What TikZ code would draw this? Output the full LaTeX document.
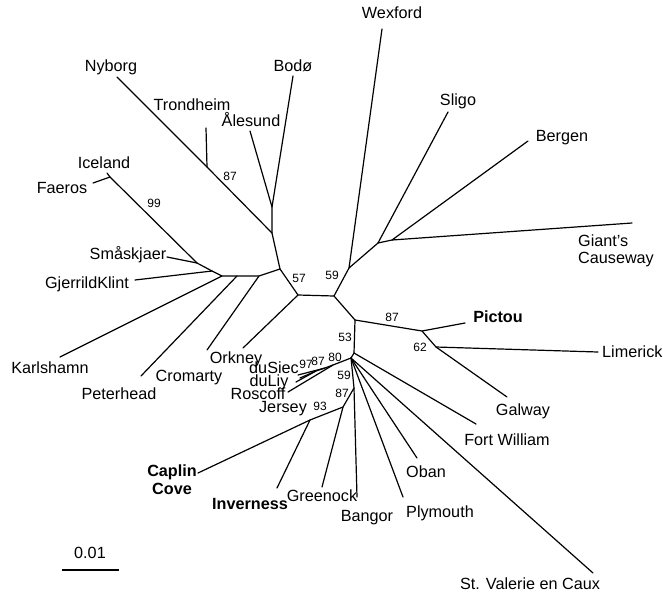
\documentclass[tikz,border=0pt]{standalone}
\usepackage{fontspec}
\setmainfont{Liberation Sans}
\begin{document}
\begin{tikzpicture}[x=1pt,y=-1pt,
  br/.style={draw=black,line width=1.2pt,line cap=round,line join=round},
  lbl/.style={inner sep=0pt,anchor=base,font=\fontsize{16.2}{18}\selectfont},
  blbl/.style={inner sep=0pt,anchor=base,font=\fontsize{16.2}{18}\selectfont\bfseries},
  bs/.style={inner sep=0pt,anchor=base,font=\fontsize{12}{13}\selectfont}]
\path[use as bounding box] (0,0) rectangle (663,592);
% coordinates
\coordinate (A) at (272,233);
\coordinate (AB) at (272,207);
\coordinate (Ales) at (250,131);
\coordinate (Bodo) at (293,76);
\coordinate (T) at (207,167);
\coordinate (Tron) at (206,128);
\coordinate (Nyb) at (117,77);
\coordinate (B) at (280,269);
\coordinate (Q5) at (259,276);
\coordinate (Q4) at (237,276);
\coordinate (Q3) at (222,276);
\coordinate (Q2) at (212,271);
\coordinate (Q1) at (197,263);
\coordinate (IF) at (110,177);
\coordinate (Ice) at (107,173);
\coordinate (Fae) at (93,183);
\coordinate (Sma) at (167,257);
\coordinate (Gje) at (135,280);
\coordinate (Karl) at (60,357);
\coordinate (Pete) at (141,376);
\coordinate (Crom) at (207,350);
\coordinate (C) at (298,295);
\coordinate (Ork) at (243,348);
\coordinate (D) at (334,296);
\coordinate (E) at (349,268);
\coordinate (Wex) at (382,29);
\coordinate (F) at (378,243);
\coordinate (Sli) at (448,112);
\coordinate (G) at (392,240);
\coordinate (Berg) at (528,141);
\coordinate (Giant) at (632,223);
\coordinate (H) at (355,320);
\coordinate (I) at (422,331);
\coordinate (Pict) at (465,323);
\coordinate (J) at (436,347);
\coordinate (Lim) at (598,352);
\coordinate (Gal) at (507,397);
\coordinate (K) at (354,353);
\coordinate (FW) at (476,424);
\coordinate (L) at (351,358);
\coordinate (StV) at (593,573);
\coordinate (Oban) at (417,458);
\coordinate (Ply) at (403,497);
\coordinate (M87) at (354,388);
\coordinate (Bang) at (357,497);
\coordinate (N) at (343,407);
\coordinate (O) at (310,420);
\coordinate (Cap) at (198,473);
\coordinate (Inv) at (277,488);
\coordinate (Gre) at (322,487);
\coordinate (M) at (333,365);
\coordinate (Ros) at (288,392);
\coordinate (P) at (325,368);
\coordinate (dS) at (298,375);
\coordinate (Qd) at (316,371);
\coordinate (dL1) at (296,382);
\coordinate (dL2) at (300,378);
% branches
\draw[br] (Nyb) -- (T) -- (A) -- (B);
\draw[br] (T) -- (Tron);
\draw[br] (A) -- (AB) -- (Ales);
\draw[br] (AB) -- (Bodo);
\draw[br] (B) -- (Q5) -- (Q4) -- (Q3) -- (Q2) -- (Q1) -- (IF) -- (Ice);
\draw[br] (IF) -- (Fae);
\draw[br] (Q1) -- (Sma);
\draw[br] (Q2) -- (Gje);
\draw[br] (Q3) -- (Karl);
\draw[br] (Q4) -- (Pete);
\draw[br] (Q5) -- (Crom);
\draw[br] (B) -- (C) -- (Ork);
\draw[br] (C) -- (D) -- (E) -- (Wex);
\draw[br] (E) -- (F) -- (Sli);
\draw[br] (F) -- (G) -- (Berg);
\draw[br] (G) -- (Giant);
\draw[br] (D) -- (H) -- (I) -- (Pict);
\draw[br] (I) -- (J) -- (Lim);
\draw[br] (J) -- (Gal);
\draw[br] (H) -- (K) -- (FW);
\draw[br] (K) -- (L) -- (StV);
\draw[br] (L) -- (Oban);
\draw[br] (L) -- (Ply);
\draw[br] (L) -- (M87) -- (Bang);
\draw[br] (M87) -- (N) -- (O) -- (Cap);
\draw[br] (O) -- (Inv);
\draw[br] (N) -- (Gre);
\draw[br] (L) -- (M) -- (Ros);
\draw[br] (M) -- (P) -- (dS);
\draw[br] (P) -- (Qd) -- (dL1);
\draw[br] (Qd) -- (dL2);
% leaf labels
\node[lbl] (tNyb) at (111,71) {Nyborg};
\node[lbl] (tBodo) at (293,71) {Bodø};
\node[lbl] (tTron) at (192,110) {Trondheim};
\node[lbl] (tAles) at (251,126) {Ålesund};
\node[lbl] (tIce) at (104,168) {Iceland};
\node[lbl] (tFae) at (62,193) {Faeros};
\node[lbl] (tSma) at (128,259) {Småskjaer};
\node[lbl] (tGje) at (87,288) {GjerrildKlint};
\node[lbl] (tKarl) at (50,373) {Karlshamn};
\node[lbl] (tPete) at (119,399) {Peterhead};
\node[lbl] (tCrom) at (189,381) {Cromarty};
\node[lbl] (tOrk) at (236,363) {Orkney};
\node[lbl] (tdS) at (274,373) {duSiec};
\node[lbl] (tdL) at (269,386) {duLiy};
\node[lbl] (tRos) at (258,399) {Roscoff};
\node[lbl] (tJer) at (283,412) {Jersey};
\node[blbl] (tCap) at (172,476) {Caplin};
\node[blbl] (tCove) at (172,494) {Cove};
\node[blbl] (tInv) at (250,509) {Inverness};
\node[lbl] (tGre) at (322,501) {Greenock};
\node[lbl] (tBang) at (367,521) {Bangor};
\node[lbl] (tPly) at (440,517) {Plymouth};
\node[lbl] (tOban) at (426,477) {Oban};
\node[lbl] (tStV) at (530,589) {St. Valerie en Caux};
\node[lbl] (tFW) at (507,445) {Fort William};
\node[lbl] (tGal) at (523,415) {Galway};
\node[lbl,anchor=base west] (tLim) at (602,357) {Limerick};
\node[blbl] (tPict) at (498,322) {Pictou};
\node[lbl,anchor=base west] (tGia) at (578,246) {Giant’s};
\node[lbl,anchor=base west] (tCau) at (578,263) {Causeway};
\node[lbl] (tBerg) at (562,141) {Bergen};
\node[lbl] (tSli) at (458,105) {Sligo};
\node[lbl] (tWex) at (392,18) {Wexford};
% bootstrap values
\node[bs] (b99) at (154,207) {99};
\node[bs] (b87a) at (230,180) {87};
\node[bs] (b57) at (299,282) {57};
\node[bs] (b59a) at (332,279) {59};
\node[bs] (b87b) at (392,321) {87};
\node[bs] (b62) at (420,351) {62};
\node[bs] (b53) at (345,341) {53};
\node[bs] (b80) at (335,361) {80};
\node[bs] (b87c) at (318,365) {87};
\node[bs] (b97) at (306,368) {97};
\node[bs] (b59b) at (344,379) {59};
\node[bs] (b87d) at (342,397) {87};
\node[bs] (b93) at (320,410) {93};
% scale bar
\coordinate (s1) at (62,570);
\coordinate (s2) at (119,570);
\draw[br,line width=1.6pt,line cap=butt] (s1) -- (s2);
\node[lbl] (tScale) at (90,558) {0.01};
\end{tikzpicture}
\end{document}
